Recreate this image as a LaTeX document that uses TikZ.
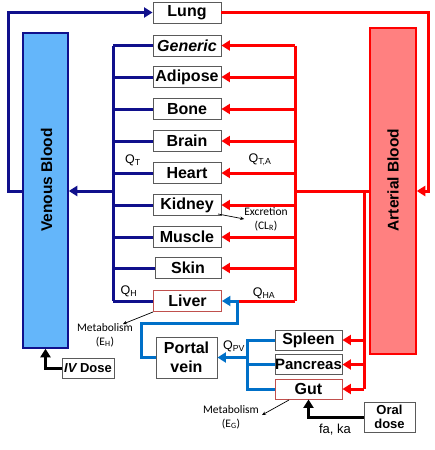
\documentclass[tikz,border=0pt]{standalone}
\usepackage{fontspec}
\setmainfont{Liberation Sans}
\newfontfamily\notefont{Carlito}
\usetikzlibrary{arrows.meta}
\definecolor{navy}{RGB}{16,16,140}
\definecolor{artred}{RGB}{255,0,0}
\definecolor{pvblue}{RGB}{0,112,200}
\definecolor{venfill}{RGB}{100,182,250}
\definecolor{artfill}{RGB}{255,128,128}
\definecolor{boxgray}{RGB}{90,90,90}
\definecolor{boxred}{RGB}{192,80,77}
\tikzset{
  organ/.style={draw=boxgray, line width=0.9pt, fill=white, inner sep=0pt,
    minimum width=68pt, minimum height=21pt, font=\fontsize{16}{17}\selectfont\bfseries},
  organsm/.style={organ, minimum width=67pt, minimum height=20pt},
  ven/.style={draw=navy, line width=3pt},
  art/.style={draw=artred, line width=3pt},
  pv/.style={draw=pvblue, line width=3pt},
  blk/.style={draw=black, line width=3pt},
  tip/.style={-{Triangle[length=8.5pt,width=10pt]}},
  qlab/.style={font=\fontsize{12.5}{13}\selectfont, inner sep=0pt},
  note/.style={font=\notefont\fontsize{11.5}{14}\selectfont, align=center, inner sep=0pt},
}
\begin{document}
\begin{tikzpicture}[x=1pt, y=-1pt]
\useasboundingbox (0,0) rectangle (434,450);
% blood compartments
\node[draw=navy, line width=1.5pt, fill=venfill, minimum width=45pt, minimum height=315pt, inner sep=0pt] (venous) at (45.5,190.5) {};
\node[rotate=90, font=\fontsize{15.5}{17}\selectfont\bfseries] (ventext) at (46.5,180) {Venous Blood};
\node[draw=artred, line width=1.5pt, fill=artfill, minimum width=46pt, minimum height=326pt, inner sep=0pt] (arterial) at (393,191) {};
\node[rotate=90, font=\fontsize{15.5}{17}\selectfont\bfseries] (arttext) at (393,180) {Arterial Blood};
% organs
\node[organ] (lung) at (187,12.5) {Lung};
\node[organ] (generic) at (187,45.5) {\itshape Generic};
\node[organ] (adipose) at (187,77) {Adipose};
\node[organ] (bone) at (187,109) {Bone};
\node[organ] (brain) at (187,141) {Brain};
\node[organ] (heart) at (187,173) {Heart};
\node[organ] (kidney) at (187,205) {Kidney};
\node[organ] (muscle) at (187,237) {Muscle};
\node[organ, minimum width=66pt] (skin) at (188,268) {Skin};
\node[organ, draw=boxred] (liver) at (187.5,301) {Liver};
\node[organ, minimum width=61pt, minimum height=41pt, align=center, font=\fontsize{16}{19}\selectfont\bfseries] (portal) at (186.5,357.5) {Portal\\vein};
\node[organsm] (spleen) at (308.5,340) {Spleen};
\node[organsm, font=\fontsize{15}{17}\selectfont\bfseries] (pancreas) at (308.5,364.5) {Pancreas};
\node[organsm, draw=boxred] (gut) at (308.5,389) {Gut};
\node[draw=boxgray, line width=0.9pt, fill=white, minimum width=51pt, minimum height=30pt, inner sep=0pt, align=center, font=\fontsize{13}{14.5}\selectfont\bfseries] (oral) at (389.5,417) {Oral\\dose};
\node[draw=boxgray, line width=0.9pt, fill=white, minimum width=52pt, minimum height=20pt, inner sep=0pt, font=\fontsize{13}{14}\selectfont\bfseries] (iv) at (88,368) {\itshape IV\upshape\ Dose};
% bus coordinates
\coordinate (vbus) at (113,0);
\coordinate (abus) at (295,0);
\coordinate (abus2) at (364,0);
\coordinate (pvbus) at (247,0);
\coordinate (hrow) at (0,191);
\coordinate (lfar) at (8,12.5);
\coordinate (rfar) at (428,12.5);
% venous side
\draw[ven] (generic.west -| vbus) -- (liver.west -| vbus);
\foreach \o in {generic,adipose,bone,brain,heart,kidney,muscle,skin,liver}
  \draw[ven] (\o.west -| vbus) -- (\o.west);
\draw[ven, tip] (vbus |- hrow) -- (venous.east |- hrow);
\draw[ven, tip] (venous.west |- hrow) -- (lfar |- hrow) -- (lfar) -- (lung.west);
% arterial side
\draw[art, tip] (lung.east) -- (rfar) -- (rfar |- hrow) -- (arterial.east |- hrow);
\draw[art] (generic.east -| abus) -- (liver.east -| abus);
\draw[art] (arterial.west |- hrow) -- (abus |- hrow);
\foreach \o in {generic,adipose,bone,brain,heart,kidney,muscle,skin}
  \draw[art, tip] (\o.east -| abus) -- (\o.east);
\coordinate (pvturn) at (237,301);
\draw[art] (liver.east -| abus) -- (pvturn);
\draw[art] (abus2 |- hrow) -- (gut.east -| abus2);
\foreach \o in {spleen,pancreas,gut}
  \draw[art, tip] (\o.east -| abus2) -- (\o.east);
% portal system
\coordinate (pvlow) at (237,323);
\coordinate (pvleft) at (141,323);
\draw[pv, tip] (portal.west) -- (pvleft |- portal.west) -- (pvleft) -- (pvlow) -- (pvturn) -- (liver.east);
\draw[pv] (spleen.west) -- (spleen.west -| pvbus) -- (gut.west -| pvbus) -- (gut.west);
\draw[pv] (pancreas.west) -- (pancreas.west -| pvbus);
\draw[pv, tip] (pvbus |- portal.east) -- (portal.east);
% doses
\draw[blk, tip] (iv.west) -| (venous.south);
\draw[blk, tip] (oral.west) -| (gut.south);
\node[font=\fontsize{13}{14}\selectfont, inner sep=0pt] (faka) at (335,430) {fa, ka};
% flow labels
\node[qlab] (qt) at (133,160) {Q\textsubscript{T}};
\node[qlab] (qta) at (260,160) {Q\textsubscript{T,A}};
\node[qlab] (qh) at (129,291) {Q\textsubscript{H}};
\node[qlab] (qha) at (264,293) {Q\textsubscript{HA}};
\node[qlab] (qpv) at (234,346) {Q\textsubscript{PV}};
% elimination notes
\node[note] (excr) at (266,219) {Excretion\\(CL\textsubscript{R})};
\draw[line width=0.7pt, -{Stealth[length=4pt,width=3.5pt]}] (218,214) -- (excr.west);
\node[note] (meth) at (105,335) {Metabolism\\(E\textsubscript{H})};
\draw[line width=0.7pt, -{Stealth[length=4pt,width=3.5pt]}] (liver.south west) -- (123,324);
\node[note] (metg) at (231,417) {Metabolism\\(E\textsubscript{G})};
\draw[line width=0.7pt, -{Stealth[length=4pt,width=3.5pt]}] (289,400) -- (262,415);
\end{tikzpicture}
\end{document}
